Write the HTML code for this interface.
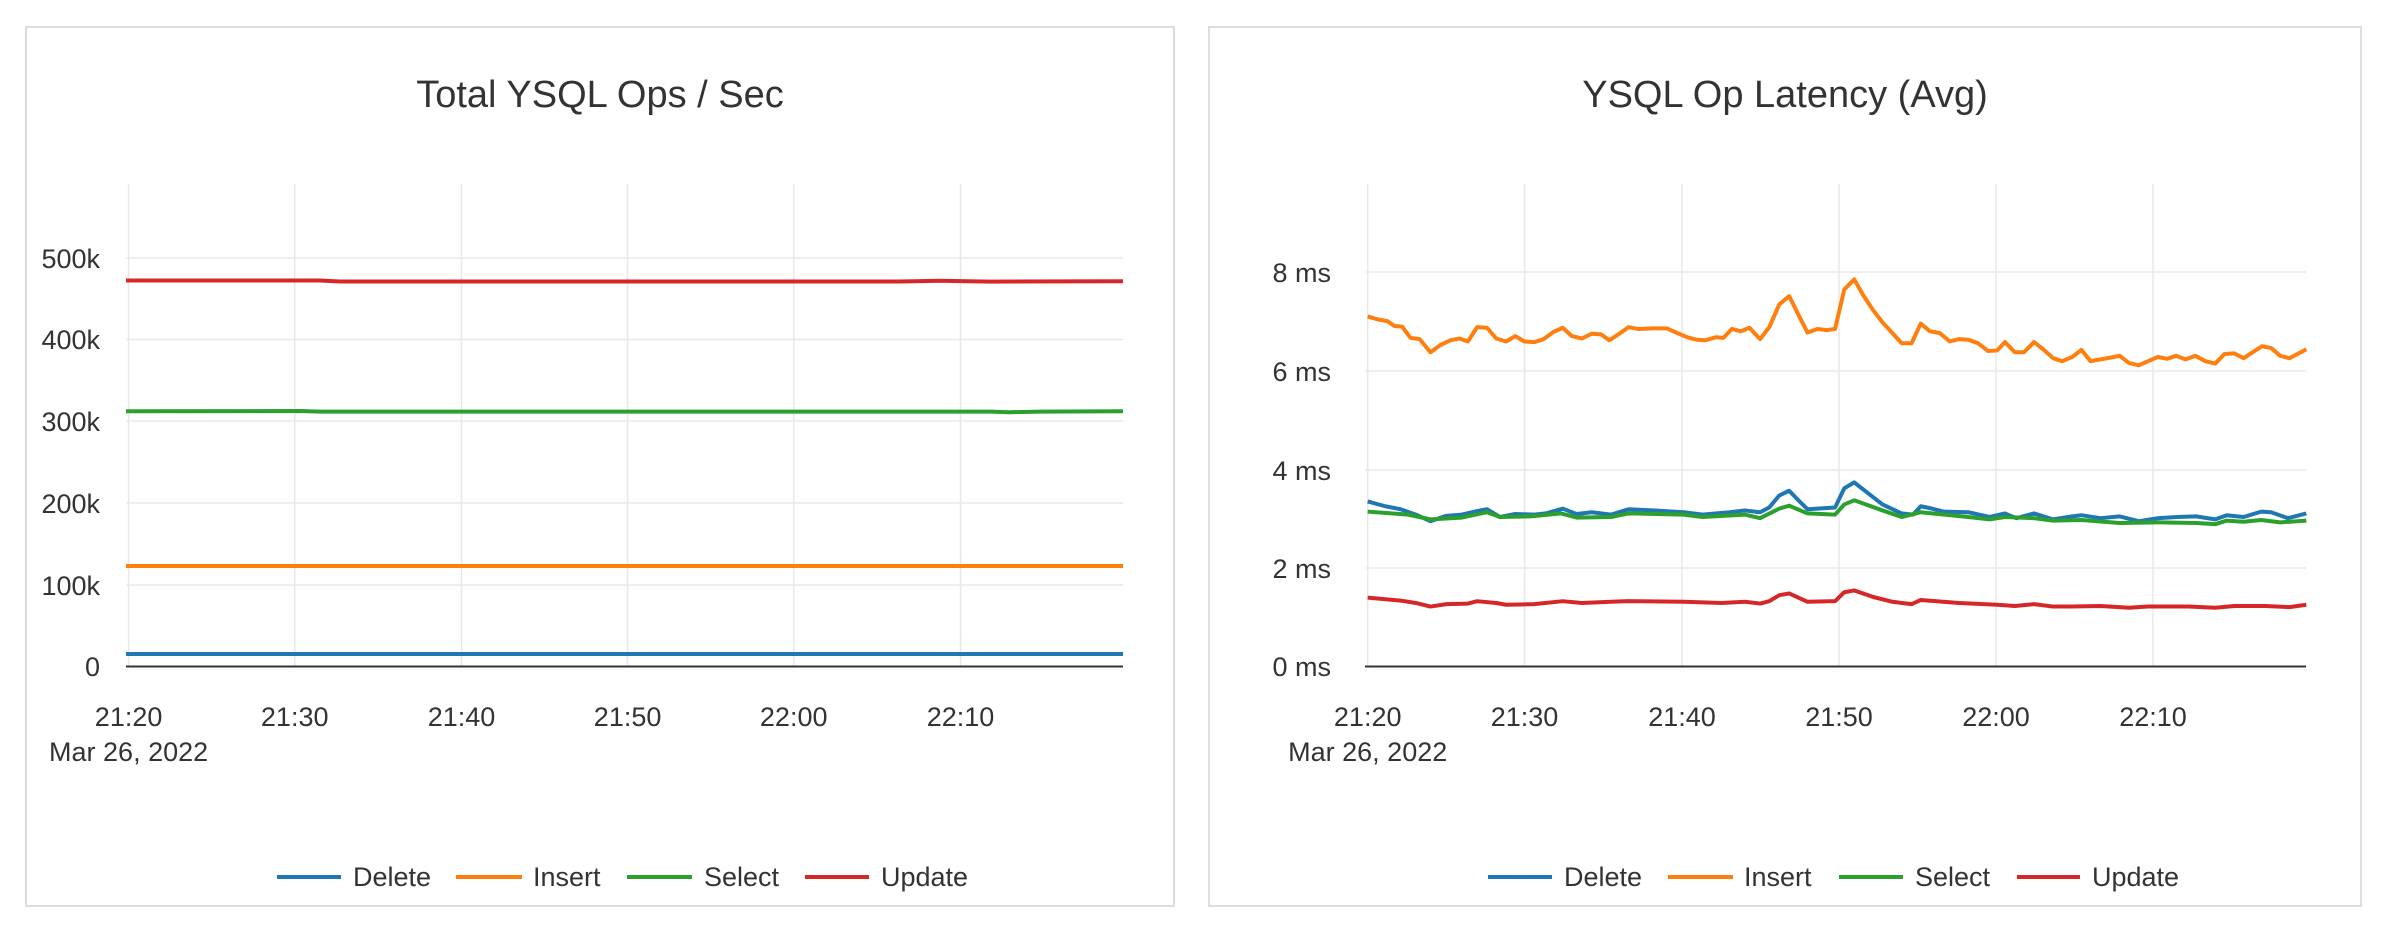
<!DOCTYPE html>
<html><head><meta charset="utf-8"><style>
html,body{margin:0;padding:0;background:#fff;}
svg{display:block;font-family:"Liberation Sans",sans-serif;}
.t{font-size:38px;fill:#333;text-anchor:middle;}
.yl{font-size:27px;fill:#333;text-anchor:end;}
.xl{font-size:27px;fill:#333;text-anchor:middle;}
.lg{font-size:27px;fill:#333;}
.g{stroke:#e8e8e8;stroke-width:1.5;}
.s{fill:none;stroke-width:4;vector-effect:non-scaling-stroke;stroke-linejoin:round;}
</style></head><body>
<svg width="2388" height="932" viewBox="0 0 2388 932">
<rect x="0" y="0" width="2388" height="932" fill="#fff"/>
<rect x="26" y="27" width="1148" height="879" fill="none" stroke="#ddd" stroke-width="2"/>
<rect x="1209" y="27" width="1152" height="879" fill="none" stroke="#ddd" stroke-width="2"/>

<!-- LEFT -->
<text class="t" x="600" y="107">Total YSQL Ops / Sec</text>
<g>
<line class="g" x1="128.6" y1="184" x2="128.6" y2="666"/>
<line class="g" x1="294.7" y1="184" x2="294.7" y2="666"/>
<line class="g" x1="461.5" y1="184" x2="461.5" y2="666"/>
<line class="g" x1="627.6" y1="184" x2="627.6" y2="666"/>
<line class="g" x1="793.7" y1="184" x2="793.7" y2="666"/>
<line class="g" x1="960.5" y1="184" x2="960.5" y2="666"/>
<line class="g" x1="126" y1="258" x2="1123" y2="258"/>
<line class="g" x1="126" y1="339.5" x2="1123" y2="339.5"/>
<line class="g" x1="126" y1="421" x2="1123" y2="421"/>
<line class="g" x1="126" y1="503" x2="1123" y2="503"/>
<line class="g" x1="126" y1="585" x2="1123" y2="585"/>
</g>
<text class="yl" x="100" y="268">500k</text>
<text class="yl" x="100" y="349">400k</text>
<text class="yl" x="100" y="431">300k</text>
<text class="yl" x="100" y="513">200k</text>
<text class="yl" x="100" y="595">100k</text>
<text class="yl" x="100" y="676">0</text>
<polyline class="s" stroke="#d62728" points="126,280.5 320,280.5 340,281.5 900,281.5 940,280.8 990,281.6 1123,281.3"/>
<polyline class="s" stroke="#2ca02c" points="126,411.3 300,411 320,411.6 990,411.6 1010,412.2 1040,411.6 1123,411.2"/>
<polyline class="s" stroke="#ff7f0e" points="126,566 1123,566"/>
<polyline class="s" stroke="#1f77b4" points="126,654 1123,654"/>
<line x1="126" y1="666.5" x2="1123" y2="666.5" stroke="#333" stroke-width="2"/>
<text class="xl" x="128.6" y="726">21:20</text>
<text class="xl" x="294.7" y="726">21:30</text>
<text class="xl" x="461.5" y="726">21:40</text>
<text class="xl" x="627.6" y="726">21:50</text>
<text class="xl" x="793.7" y="726">22:00</text>
<text class="xl" x="960.5" y="726">22:10</text>
<text class="xl" x="128.6" y="761">Mar 26, 2022</text>
<line x1="277" y1="877" x2="341" y2="877" stroke="#1f77b4" stroke-width="4"/>
<text class="lg" x="353" y="886">Delete</text>
<line x1="456" y1="877" x2="522" y2="877" stroke="#ff7f0e" stroke-width="4"/>
<text class="lg" x="533" y="886">Insert</text>
<line x1="627" y1="877" x2="692" y2="877" stroke="#2ca02c" stroke-width="4"/>
<text class="lg" x="704" y="886">Select</text>
<line x1="805" y1="877" x2="869" y2="877" stroke="#d62728" stroke-width="4"/>
<text class="lg" x="881" y="886">Update</text>

<!-- RIGHT -->
<text class="t" x="1785" y="107">YSQL Op Latency (Avg)</text>
<g>
<line class="g" x1="1367.7" y1="184" x2="1367.7" y2="666"/>
<line class="g" x1="1524.5" y1="184" x2="1524.5" y2="666"/>
<line class="g" x1="1682" y1="184" x2="1682" y2="666"/>
<line class="g" x1="1839" y1="184" x2="1839" y2="666"/>
<line class="g" x1="1996" y1="184" x2="1996" y2="666"/>
<line class="g" x1="2153" y1="184" x2="2153" y2="666"/>
<line class="g" x1="1365" y1="272" x2="2306" y2="272"/>
<line class="g" x1="1365" y1="371" x2="2306" y2="371"/>
<line class="g" x1="1365" y1="470" x2="2306" y2="470"/>
<line class="g" x1="1365" y1="568" x2="2306" y2="568"/>
</g>
<text class="yl" x="1331" y="282">8 ms</text>
<text class="yl" x="1331" y="381">6 ms</text>
<text class="yl" x="1331" y="480">4 ms</text>
<text class="yl" x="1331" y="578">2 ms</text>
<text class="yl" x="1331" y="676">0 ms</text>
<g transform="translate(1194,0) scale(0.765,0.597)">
<polyline class="s" stroke="#ff7f0e" points="227,530 240,535 253,538 262,546 272,547 283,566 295,568 309,590 322,578 335,570 347,567 358,572 370,548 383,549 395,567 408,572 420,563 432,572 445,573 457,568 470,556 482,549 494,563 507,567 520,559 532,560 543,570 556,559 568,548 581,551 600,550 618,550 632,558 645,565 657,569 668,570 682,565 692,566 703,551 715,555 726,549 740,568 752,548 765,510 778,496 790,527 802,557 815,551 827,553 838,551 850,485 863,468 875,495 888,520 900,540 913,558 925,575 938,575 950,542 962,555 975,558 988,572 1000,568 1012,569 1025,575 1038,588 1050,587 1060,573 1073,590 1085,590 1098,573 1110,585 1123,600 1135,605 1148,598 1160,586 1172,605 1185,602 1198,599 1210,596 1222,608 1235,612 1247,605 1260,598 1272,601 1284,596 1296,602 1309,596 1322,605 1335,609 1347,593 1360,592 1372,600 1384,590 1396,580 1408,583 1420,596 1432,600 1444,592 1454,585"/>
<polyline class="s" stroke="#1f77b4" points="227,840 250,848 270,853 290,862 309,873 330,864 350,862 370,856 383,853 400,866 420,861 445,862 460,860 482,852 500,861 520,858 545,862 568,853 600,855 640,858 665,862 700,858 720,855 740,858 752,850 765,830 778,822 790,838 802,853 838,850 850,818 863,808 880,825 900,845 925,860 940,862 950,848 965,852 980,857 1012,858 1040,866 1060,860 1075,868 1098,860 1123,870 1148,865 1160,863 1185,868 1210,865 1235,873 1260,868 1285,866 1310,865 1335,870 1350,863 1372,866 1395,857 1408,858 1430,868 1454,860"/>
<polyline class="s" stroke="#2ca02c" points="227,857 280,862 309,870 350,867 383,858 400,866 440,865 480,860 500,867 545,866 568,860 640,862 665,866 720,862 740,868 765,852 778,847 802,860 838,862 850,845 863,838 900,855 925,866 950,858 1012,866 1040,870 1060,866 1098,868 1123,872 1160,871 1210,876 1260,875 1310,876 1335,878 1350,872 1372,874 1395,871 1420,875 1454,872"/>
<polyline class="s" stroke="#d62728" points="227,1001 270,1006 290,1010 309,1016 330,1012 358,1011 370,1007 395,1010 408,1013 445,1012 482,1007 507,1010 545,1008 568,1007 640,1008 690,1010 720,1008 740,1011 752,1007 765,997 778,994 802,1008 838,1007 850,992 863,989 888,1000 913,1008 938,1012 950,1005 1000,1010 1050,1013 1073,1015 1098,1012 1123,1016 1148,1016 1185,1015 1222,1018 1247,1016 1300,1016 1335,1018 1360,1015 1400,1015 1432,1017 1454,1013"/>
</g>
<line x1="1365" y1="666.5" x2="2306" y2="666.5" stroke="#333" stroke-width="2"/>
<text class="xl" x="1367.7" y="726">21:20</text>
<text class="xl" x="1524.5" y="726">21:30</text>
<text class="xl" x="1682" y="726">21:40</text>
<text class="xl" x="1839" y="726">21:50</text>
<text class="xl" x="1996" y="726">22:00</text>
<text class="xl" x="2153" y="726">22:10</text>
<text class="xl" x="1367.7" y="761">Mar 26, 2022</text>
<line x1="1488" y1="877" x2="1552" y2="877" stroke="#1f77b4" stroke-width="4"/>
<text class="lg" x="1564" y="886">Delete</text>
<line x1="1668" y1="877" x2="1733" y2="877" stroke="#ff7f0e" stroke-width="4"/>
<text class="lg" x="1744" y="886">Insert</text>
<line x1="1839" y1="877" x2="1903" y2="877" stroke="#2ca02c" stroke-width="4"/>
<text class="lg" x="1915" y="886">Select</text>
<line x1="2017" y1="877" x2="2080" y2="877" stroke="#d62728" stroke-width="4"/>
<text class="lg" x="2092" y="886">Update</text>
</svg>
</body></html>
